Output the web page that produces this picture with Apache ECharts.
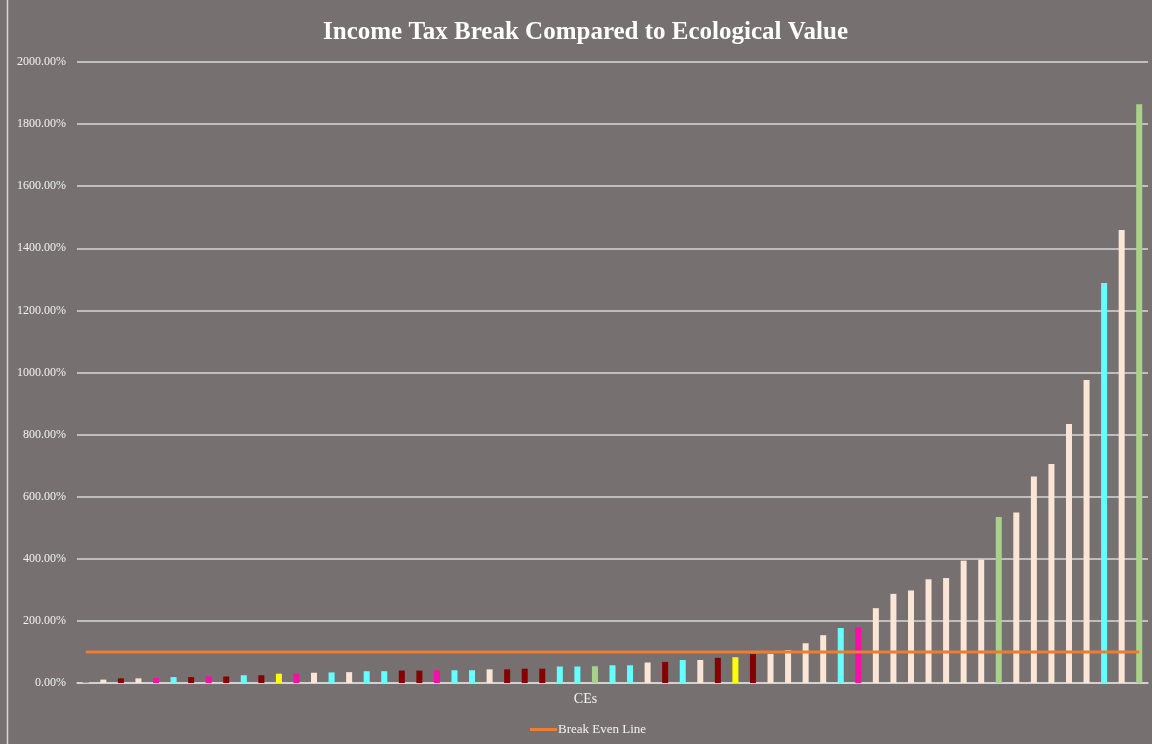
<!DOCTYPE html>
<html>
<head>
<meta charset="utf-8">
<style>
  html, body { margin: 0; padding: 0; background: #767170; }
  #chart { width: 1152px; height: 744px; }
</style>
<script src="https://cdn.jsdelivr.net/npm/echarts@6/dist/echarts.min.js"></script>
</head>
<body>
<div id="chart"></div>
<script>
// Income tax break as a percentage of ecological value, one bar per CE, sorted ascending
const values = [2, 11, 15, 15, 16, 19, 19, 21, 21, 25, 25, 30, 30, 33, 34, 35, 38, 38, 40, 40,
  41, 41, 41, 44, 44, 46, 46, 53, 53, 54, 57, 57, 66, 68, 74, 74, 81, 83, 93, 94,
  106, 128, 154, 177, 179, 241, 287, 298, 334, 338, 394, 397, 535, 549, 665, 705, 834, 976,
  1288, 1459, 1864];

// Colour group of each bar
const groups = ['F', 'P', 'R', 'P', 'M', 'C', 'R', 'M', 'R', 'C', 'R', 'Y', 'M', 'P', 'C', 'P', 'C', 'C', 'R', 'R',
  'M', 'C', 'C', 'P', 'R', 'R', 'R', 'C', 'C', 'G', 'C', 'C', 'P', 'R', 'C', 'P', 'R', 'Y', 'R', 'P',
  'P', 'P', 'P', 'C', 'M', 'P', 'P', 'P', 'P', 'P', 'P', 'P', 'G', 'P', 'P', 'P', 'P', 'P',
  'C', 'P', 'G'];

const groupColors = {
  P: '#fbe5d6', R: '#850000', C: '#66ffff', M: '#f70fa8',
  Y: '#ffff00', G: '#a9d18e', F: '#9c5a5a'
};

const breakEvenValue = 100;
const yTicks = { min: 0, max: 2000, interval: 200 };

const categories = values.map((_, i) => 'CE ' + (i + 1));
const barData = values.map((v, i) => ({ value: v, itemStyle: { color: groupColors[groups[i]] } }));
const lineData = categories.map(() => breakEvenValue);

const serif = '"Liberation Serif", "Times New Roman", serif';
const chart = echarts.init(document.getElementById('chart'));
chart.setOption({
  backgroundColor: '#767170',
  animation: false,
  title: {
    text: 'Income Tax Break Compared to Ecological Value',
    left: 318, top: 15,
    textStyle: { color: '#ffffff', fontFamily: serif, fontWeight: 'bold', fontSize: 25 }
  },
  legend: {
    bottom: 3, left: 525,
    data: [{ name: 'Break Even Line', icon: 'rect' }],
    itemWidth: 27, itemHeight: 3, itemGap: 4,
    textStyle: { color: '#f2f2f2', fontFamily: serif, fontSize: 13, padding: [0, 0, 0, -4] }
  },
  grid: { left: 77, right: 4, top: 62, bottom: 61, containLabel: false },
  xAxis: {
    type: 'category', data: categories,
    name: 'CEs', nameLocation: 'middle', nameGap: 9,
    nameTextStyle: { color: '#f2f2f2', fontFamily: serif, fontSize: 14, padding: [0, 54, 0, 0] },
    axisLine: { lineStyle: { color: '#d9d9d9', width: 1.5 } },
    axisTick: { show: false }, axisLabel: { show: false }
  },
  yAxis: {
    type: 'value', min: yTicks.min, max: yTicks.max, interval: yTicks.interval,
    axisLine: { show: false }, axisTick: { show: false },
    axisLabel: {
      color: '#f2f2f2', fontFamily: serif, fontSize: 12, margin: 11,
      formatter: v => v.toFixed(2) + '%'
    },
    splitLine: { lineStyle: { color: '#d9d9d9', width: 1.5 } }
  },
  series: [
    {
      name: 'Tax Break vs Value', type: 'bar', data: barData, barWidth: 6
    },
    {
      name: 'Break Even Line', type: 'line', data: lineData,
      showSymbol: false, symbol: 'none',
      itemStyle: { color: '#ed7d31' },
      lineStyle: { color: '#ed7d31', width: 3 }
    }
  ],
  graphic: [
    { type: 'line', shape: { x1: 7.5, y1: 0, x2: 7.5, y2: 744 }, style: { stroke: '#d9d9d9', lineWidth: 1.5 } }
  ]
});
</script>
</body>
</html>
